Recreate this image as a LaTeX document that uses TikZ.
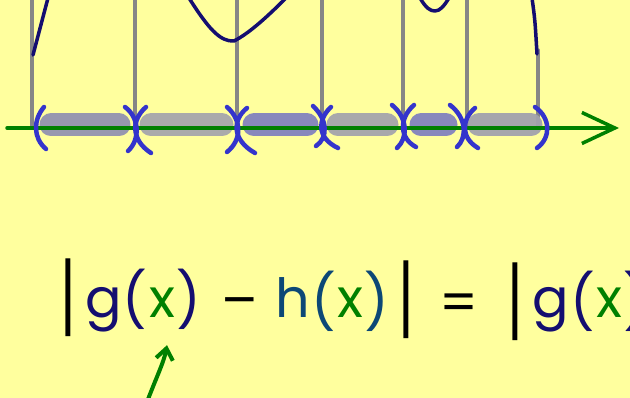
\documentclass[tikz,border=0pt]{standalone}
\usepackage{fontspec}
\newfontfamily\handfont{Poppins}
\definecolor{padyellow}{RGB}{255,255,158}
\definecolor{inknavy}{RGB}{20,14,112}
\definecolor{inkteal}{RGB}{12,72,118}
\definecolor{inkgreen}{RGB}{0,128,0}
\definecolor{inkblue}{RGB}{52,52,204}
\definecolor{rulegray}{RGB}{134,134,134}
\definecolor{barslate}{RGB}{146,146,176}
\definecolor{bargray}{RGB}{166,166,172}
\definecolor{barblue}{RGB}{130,130,190}
\usetikzlibrary{arrows.meta,positioning}

\begin{document}
\begin{tikzpicture}[x=1pt,y=-1pt,line cap=round,line join=round,
    hand/.style={font=\handfont\fontsize{54}{60}\selectfont,anchor=base,inner sep=0pt},
    paren/.style={inkblue,line width=4.5pt},
    bar/.style={line width=23pt,opacity=0.95}]
  \fill[padyellow] (0,0) rectangle (630,398);
  \useasboundingbox (0,0) rectangle (630,398);
  %% Vertical guide lines
  \foreach \gx in {32,135,237,322,403,467}
    \draw[rulegray,line width=3.5pt] (\gx,-2) -- (\gx,128);
  \draw[rulegray,line width=3.5pt] (538,50) -- (538,126);
  %% Pieces of the graph
  \draw[inknavy,line width=3.5pt] (48,-2) -- (33,55);
  \draw[inknavy,line width=3.5pt] (189,-2) .. controls (208,28) and (220,42) .. (234,41)
       .. controls (250,33) and (270,14) .. (286,-2);
  \draw[inknavy,line width=3.5pt] (420,-2) .. controls (426,8) and (430,11) .. (435,11)
       .. controls (440,11) and (444,6) .. (449,-2);
  \draw[inknavy,line width=3.5pt] (532,-2) .. controls (535,20) .. (537,54);
  %% Sub-interval bars
  \draw[bar,barslate] (51,125) -- (119,125);
  \draw[bar,bargray] (151,125) -- (222,125);
  \draw[bar,barblue] (254,125) -- (307,125);
  \draw[bar,bargray!90!barslate] (338,125) -- (387,125);
  \draw[bar,barblue] (421,125) -- (446,125);
  \draw[bar,bargray!80!barslate] (479,125) -- (531,125);
  %% Axis
  \draw[inkgreen,line width=3.5pt,-{Straight Barb[length=33pt,width=31pt]}] (7,128) -- (619,128);
  %% Brackets
  \draw[paren] (44,107) .. controls (33,120) and (33,138) .. (46,149);
  \draw[paren] (125,107) .. controls (140,118) and (140,140) .. (128,151);
  \draw[paren] (146,107) .. controls (131,120) and (131,140) .. (151,153);
  \draw[paren] (227,107) .. controls (242,120) and (242,140) .. (227,152);
  \draw[paren] (247,108) .. controls (232,120) and (232,140) .. (255,153);
  \draw[paren] (313,106) .. controls (328,120) and (328,138) .. (316,146);
  \draw[paren] (331,107) .. controls (317,120) and (317,138) .. (338,148);
  \draw[paren] (392,105) .. controls (408,118) and (408,138) .. (397,148);
  \draw[paren] (414,105) .. controls (399,118) and (399,138) .. (416,147);
  \draw[paren] (450,105) .. controls (467,118) and (467,138) .. (457,147);
  \draw[paren] (475,108) .. controls (461,120) and (461,138) .. (478,148);
  \draw[paren] (535,107) .. controls (551,118) and (551,138) .. (537,148);
  %% Formula
  \node[hand] (colon) at (-3,318) {:};
  \node[hand] (absL) at (68,328) {\scalebox{1}[1.6]{|}};
  \node[hand,inknavy] (gA) at (104,318) {g};
  \node[hand,inknavy] (lpA) at (135,320) {(};
  \node[hand,inkgreen] (xA) at (162,318) {x};
  \node[hand,inknavy] (rpA) at (189,320) {)};
  \node[hand] (minus) at (240,320) {–};
  \node[hand,inkteal] (hB) at (293,318) {h};
  \node[hand,inkteal] (lpB) at (324,322) {(};
  \node[hand,inkgreen] (xB) at (350,318) {x};
  \node[hand,inkteal] (rpB) at (377,322) {)};
  \node[hand] (absR) at (406,330) {\scalebox{1}[1.6]{|}};
  \node[hand] (eq) at (459,322) {=};
  \node[hand] (absC) at (515,332) {\scalebox{1}[1.6]{|}};
  \node[hand,inknavy] (gC) at (551,318) {g};
  \node[hand,inknavy] (lpC) at (583,322) {(};
  \node[hand,inkgreen] (xC) at (609,318) {x};
  \node[hand,inknavy] (rpC) at (636,322) {)};
  %% Pointer to the argument
  \coordinate (tail) at (147,402);
  \draw[inkgreen,line width=4pt,-{Straight Barb[length=11pt,width=17pt]}]
    (tail) .. controls (156,378) and (164,362) .. ([xshift=5pt,yshift=-27pt]xA.south);
\end{tikzpicture}
\end{document}
